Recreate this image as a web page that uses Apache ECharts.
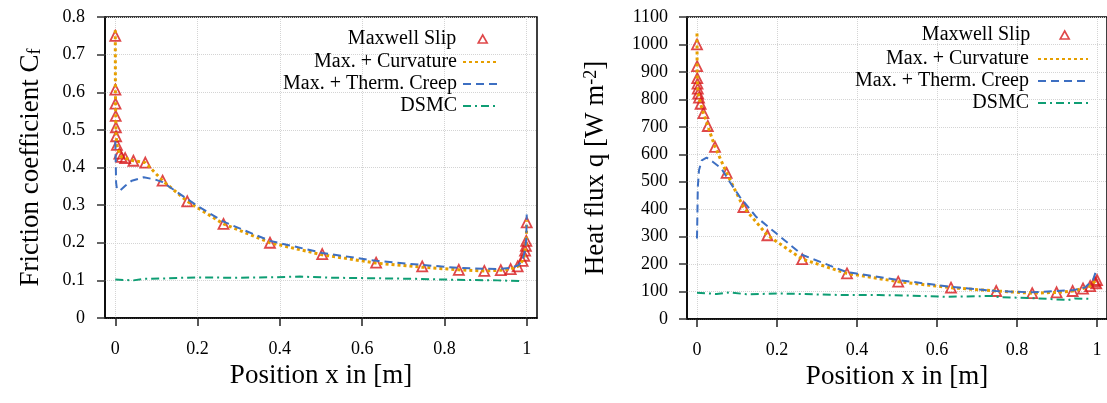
<!DOCTYPE html>
<html><head><meta charset="utf-8">
<script src="https://cdn.jsdelivr.net/npm/echarts@6/dist/echarts.min.js"></script>
<style>html,body{margin:0;padding:0;background:#fff}#c{width:1107px;height:403px}</style>
</head><body><div id="c"></div>
<script>
// ---- tick labels ----
const xTicks = [0, 0.2, 0.4, 0.6, 0.8, 1];
const legendNames = ['Maxwell Slip', 'Max. + Curvature', 'Max. + Therm. Creep', 'DSMC'];

// ---- Left chart: friction coefficient Cf ----
const cfSlip = [[0,0.75],[0.0003,0.607],[0.0006,0.57],[0.001,0.537],[0.0015,0.507],[0.002,0.483],[0.004,0.46],[0.01,0.437],[0.015,0.428],[0.024,0.425],[0.044,0.418],[0.073,0.413],[0.115,0.365],[0.175,0.31],[0.263,0.25],[0.376,0.2],[0.503,0.17],[0.634,0.147],[0.746,0.137],[0.835,0.128],[0.897,0.125],[0.937,0.127],[0.961,0.13],[0.978,0.137],[0.99,0.152],[0.994,0.165],[0.996,0.179],[0.998,0.192],[0.999,0.205],[1.0,0.254]];
const cfCurv = [[0,0.765],[0.0003,0.607],[0.0006,0.57],[0.001,0.537],[0.0015,0.507],[0.002,0.483],[0.004,0.46],[0.01,0.437],[0.015,0.428],[0.024,0.425],[0.044,0.418],[0.073,0.413],[0.115,0.365],[0.175,0.31],[0.263,0.25],[0.376,0.2],[0.503,0.168],[0.634,0.146],[0.746,0.135],[0.835,0.128],[0.897,0.125],[0.937,0.127],[0.961,0.13],[0.978,0.137],[0.99,0.152],[0.994,0.165],[0.996,0.179],[0.998,0.192],[0.999,0.205],[1.0,0.26]];
const cfCreep = [[0,0.47],[0.001,0.42],[0.002,0.36],[0.004,0.343],[0.012,0.339],[0.025,0.352],[0.04,0.365],[0.069,0.374],[0.097,0.368],[0.115,0.361],[0.178,0.314],[0.198,0.299],[0.263,0.256],[0.376,0.205],[0.503,0.173],[0.634,0.152],[0.746,0.141],[0.835,0.133],[0.93,0.13],[0.96,0.133],[0.98,0.14],[0.99,0.155],[0.996,0.18],[0.999,0.21],[1.0,0.275]];
const cfDsmc = [[0,0.102],[0.044,0.1],[0.069,0.104],[0.113,0.105],[0.198,0.108],[0.29,0.107],[0.37,0.108],[0.449,0.11],[0.529,0.107],[0.61,0.106],[0.731,0.104],[0.852,0.101],[0.93,0.1],[0.988,0.098]];

// ---- Right chart: heat flux q ----
const qSlip = [[0,1000],[0.0003,921],[0.0006,877],[0.0012,857],[0.002,839],[0.003,821],[0.005,806],[0.009,784],[0.016,750],[0.027,703],[0.045,627],[0.074,532],[0.116,408],[0.176,305],[0.263,218],[0.375,166],[0.503,136],[0.635,114],[0.748,102],[0.838,94],[0.899,97],[0.939,102],[0.965,111],[0.983,120],[0.994,136],[0.998,130],[1.0,142]];
const qCurv = [[0,1040],[0.0003,921],[0.0006,877],[0.0012,857],[0.002,839],[0.003,821],[0.005,806],[0.009,784],[0.016,750],[0.027,703],[0.045,627],[0.074,532],[0.116,408],[0.176,305],[0.263,218],[0.375,166],[0.503,136],[0.635,114],[0.748,102],[0.838,94],[0.899,97],[0.939,102],[0.965,111],[0.983,120],[0.994,136],[1.0,145]];
const qCreep = [[0,293],[0.001,380],[0.002,481],[0.005,542],[0.012,578],[0.024,588],[0.04,572],[0.061,548],[0.082,499],[0.107,445],[0.148,372],[0.198,312],[0.264,233],[0.372,172],[0.503,142],[0.635,117],[0.748,102],[0.838,97],[0.94,105],[0.97,115],[0.99,142],[1.0,185]];
const qDsmc = [[0,96],[0.049,91],[0.082,97],[0.124,90],[0.206,93],[0.29,90],[0.372,87],[0.455,87],[0.538,85],[0.621,81],[0.7,83],[0.737,84],[0.754,80],[0.853,75],[0.928,69],[0.944,75],[0.986,73]];

const FONT = 'Liberation Serif';
const RED = '#d7191c', ORANGE = '#e69f00', BLUE = '#3d6fc2', GREEN = '#0f9e74';

function xAxis(gi) {
  return {
    gridIndex: gi, type: 'value', min: -0.025, max: 1.025,
    axisLine: {onZero: false, lineStyle: {color: '#000', width: 1.5}},
    axisTick: {customValues: xTicks, length: 8, lineStyle: {color: '#222', width: 1.5}},
    axisLabel: {customValues: xTicks, margin: 22, fontSize: 18, color: '#000', fontFamily: FONT},
    splitLine: {show: true, lineStyle: {color: '#d4d4d4', type: 'dotted', width: 1}},
    name: 'Position x in [m]', nameLocation: 'middle', nameGap: 37,
    nameTextStyle: {fontSize: 27, color: '#000', fontFamily: FONT}
  };
}
function yAxis(gi, max, interval, name, gap, rich, lblMargin) {
  return {
    gridIndex: gi, type: 'value', min: 0, max: max, interval: interval,
    axisLine: {show: true, onZero: false, lineStyle: {color: '#000', width: 1.5}},
    axisTick: {show: true, length: 8, lineStyle: {color: '#333', width: 1.5}},
    axisLabel: {margin: lblMargin, fontSize: 18, color: '#000', fontFamily: FONT, formatter: v => String(+v.toFixed(2))},
    splitLine: {show: true, lineStyle: {color: '#d4d4d4', type: 'dotted', width: 1}},
    name: name, nameLocation: 'middle', nameGap: gap,
    nameTextStyle: {fontSize: 27, color: '#000', fontFamily: FONT, rich: rich}
  };
}
function seriesFor(gi, slip, curv, creep, dsmc) {
  return [
    {name: legendNames[0], type: 'scatter', xAxisIndex: gi, yAxisIndex: gi, data: slip,
     symbol: 'triangle', symbolSize: 10,
     itemStyle: {color: 'rgba(255,255,255,0)', borderColor: RED, borderWidth: 1.8}, z: 2},
    {name: legendNames[1], type: 'line', xAxisIndex: gi, yAxisIndex: gi, data: curv, symbol: 'none',
     lineStyle: {color: ORANGE, width: 3, type: [3, 3]}, itemStyle: {color: ORANGE}, z: 3},
    {name: legendNames[2], type: 'line', xAxisIndex: gi, yAxisIndex: gi, data: creep, symbol: 'none',
     lineStyle: {color: BLUE, width: 2, type: [8, 5]}, itemStyle: {color: BLUE}, z: 4},
    {name: legendNames[3], type: 'line', xAxisIndex: gi, yAxisIndex: gi, data: dsmc, symbol: 'none',
     lineStyle: {color: GREEN, width: 2, type: [8, 4, 2, 4]}, itemStyle: {color: GREEN}, z: 4}
  ];
}
const txt = pad => ({fontSize: 20, color: '#000', fontFamily: FONT, padding: [0, pad, 0, 0]});
function slipLegend(right, top, pad) {
  return {
    right: right, top: top, orient: 'vertical', align: 'right', padding: 0,
    itemWidth: 9, itemHeight: 8, selectedMode: false, textStyle: txt(pad),
    data: [{name: legendNames[0], icon: 'triangle', itemStyle: {color: 'rgba(255,255,255,0)', borderColor: RED, borderWidth: 1.6}}]
  };
}
function lineLegend(right, top, w, pad) {
  const hide = {opacity: 0, color: 'rgba(0,0,0,0)', borderWidth: 0};
  return {
    right: right, top: top, orient: 'vertical', align: 'right', padding: 0,
    itemWidth: w, itemHeight: 2, itemGap: 2, selectedMode: false, textStyle: txt(pad),
    data: legendNames.slice(1).map(n => ({name: n, itemStyle: hide}))
  };
}

const chart = echarts.init(document.getElementById('c'), null, {renderer: 'canvas'});
chart.setOption({
  animation: false,
  backgroundColor: '#fff',
  grid: [
    {left: 105, top: 17, width: 432, height: 301, show: true, borderColor: '#000', borderWidth: 1.5, backgroundColor: 'transparent'},
    {left: 687, top: 17, width: 422, height: 302, show: true, borderColor: '#000', borderWidth: 1.5, backgroundColor: 'transparent'}
  ],
  xAxis: [xAxis(0), xAxis(1)],
  yAxis: [
    yAxis(0, 0.8, 0.1, '{a|Friction coefficient C}{s|f}', 61,
      {a: {fontSize: 27, fontFamily: FONT, color: '#000'}, s: {fontSize: 18, fontFamily: FONT, color: '#000', verticalAlign: 'bottom', padding: [9, 0, 0, 0]}}, 20),
    yAxis(1, 1100, 100, '{a|Heat flux q [W m}{p|-2}{a|]}', 78,
      {a: {fontSize: 27, fontFamily: FONT, color: '#000'}, p: {fontSize: 18, fontFamily: FONT, color: '#000', verticalAlign: 'top', padding: [0, 0, 9, 0]}}, 19)
  ],
  legend: [
    slipLegend(619, 29, 17), lineLegend(607, 52, 36, 1),
    slipLegend(37, 25, 25), lineLegend(18, 49, 50, 4)
  ],
  series: [].concat(seriesFor(0, cfSlip, cfCurv, cfCreep, cfDsmc), seriesFor(1, qSlip, qCurv, qCreep, qDsmc))
});
</script>
</body></html>
